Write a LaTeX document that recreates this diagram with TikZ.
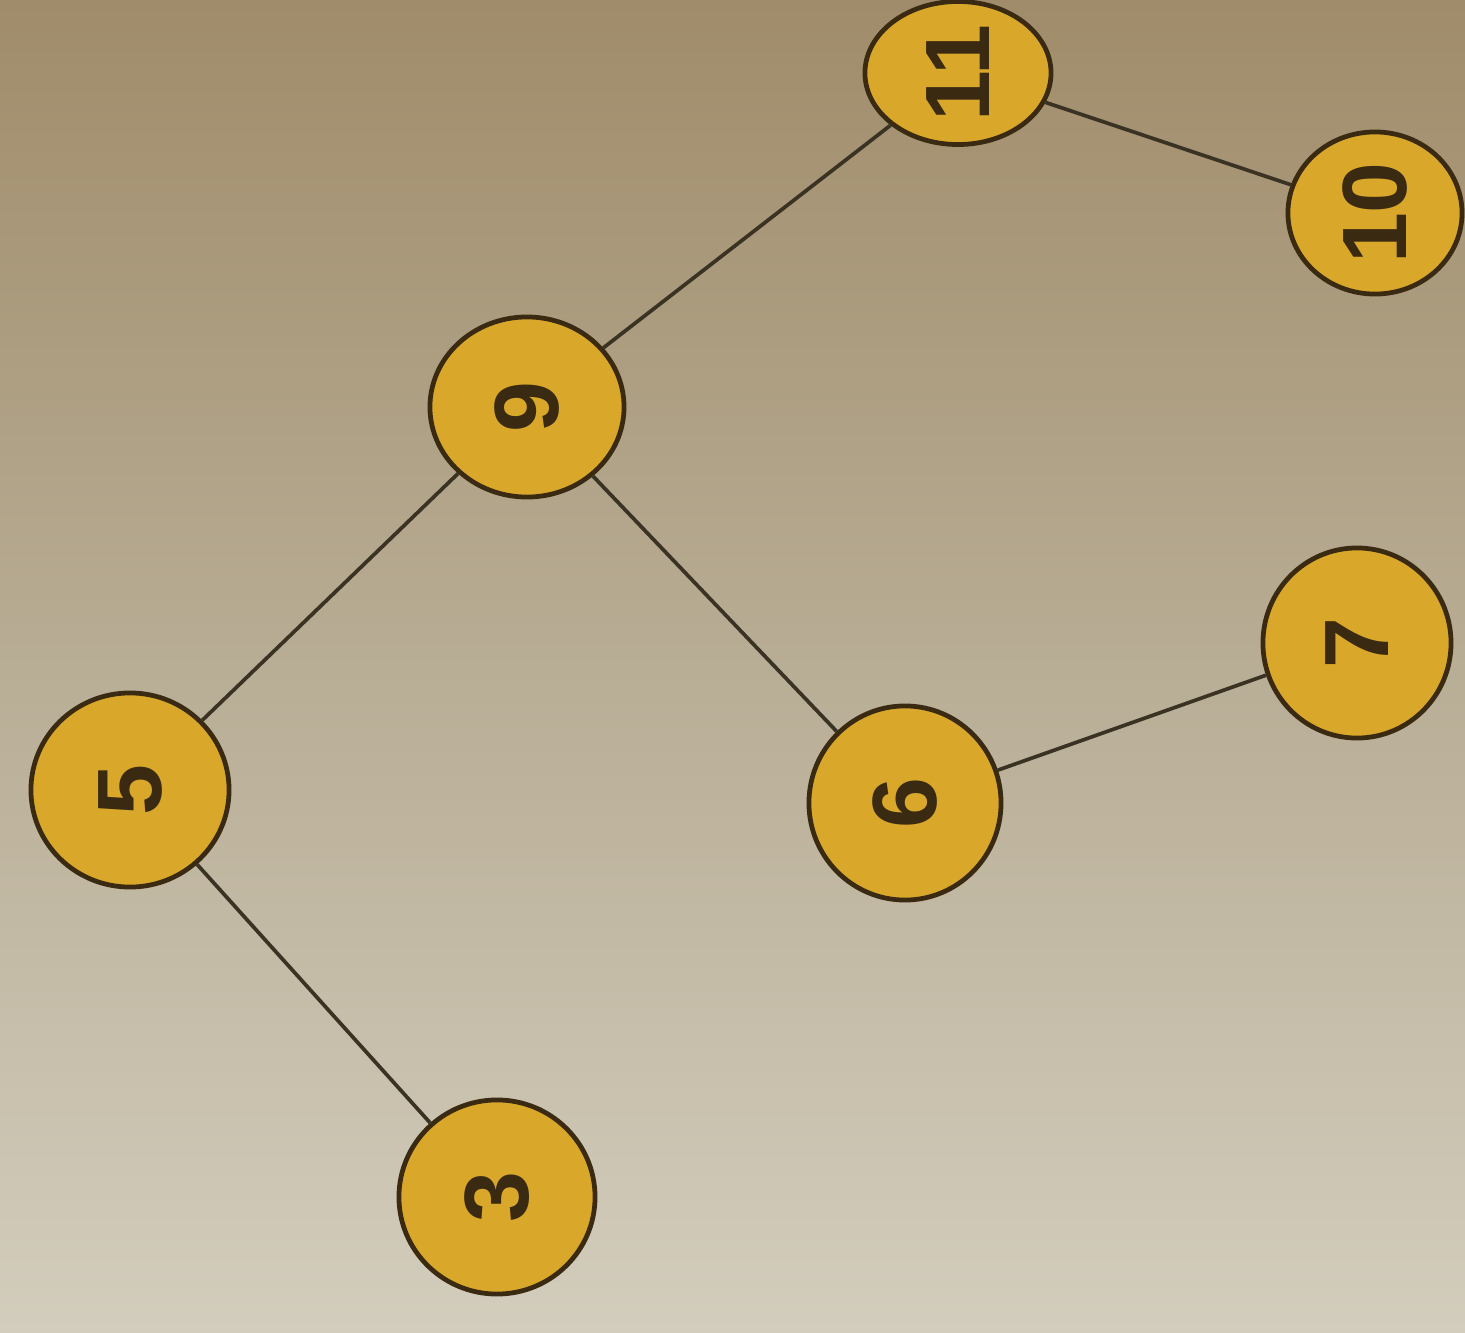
\documentclass[tikz,border=0pt]{standalone}
\usepackage{fontspec}
\usepackage{graphicx}
\setmainfont{Liberation Sans}
\usetikzlibrary{shapes.geometric}
\definecolor{bgtop}{HTML}{A08C6A}
\definecolor{bgmid}{HTML}{B8AD95}
\definecolor{bgbot}{HTML}{D3CDBD}
\definecolor{keyfill}{HTML}{D9A82A}
\definecolor{keyedge}{HTML}{3A2A12}
\definecolor{linkcol}{HTML}{3A3222}
\tikzset{
  keynode/.style={ellipse, draw=keyedge, line width=1.35pt, fill=keyfill,
    inner sep=0pt, text=keyedge,
    font=\fontsize{26}{26}\selectfont\bfseries},
  link/.style={draw=linkcol, line width=1.05pt}
}
\newcommand{\keytext}[1]{\rotatebox{90}{#1}}
\begin{document}
\begin{tikzpicture}[x=0.01cm, y=-0.01cm]
  % paper background
  \useasboundingbox (0,0) rectangle (1465,1333);
  \shade[top color=bgtop, bottom color=bgbot, middle color=bgmid]
    (0,0) rectangle (1465,1333);

  % keys
  \node[keynode, minimum width=1.86cm, minimum height=1.43cm] (n11) at (958,73) {\keytext{11}};
  \node[keynode, minimum width=1.74cm, minimum height=1.62cm] (n10) at (1375,213) {\keytext{10}};
  \node[keynode, minimum width=1.94cm, minimum height=1.80cm] (n9) at (527,407) {\keytext{9}};
  \node[keynode, minimum width=1.98cm, minimum height=1.94cm] (n5) at (130,790) {\keytext{5}};
  \node[keynode, minimum width=1.92cm, minimum height=1.94cm] (n6) at (905,803) {\keytext{6}};
  \node[keynode, minimum width=1.88cm, minimum height=1.90cm] (n7) at (1357,643) {\keytext{7}};
  \node[keynode, minimum width=1.96cm, minimum height=1.94cm] (n3) at (497,1197) {\keytext{3}};

  % links
  \draw[link] (n11) -- (n10);
  \draw[link] (n11) -- (n9);
  \draw[link] (n9) -- (n5);
  \draw[link] (n9) -- (n6);
  \draw[link] (n6) -- (n7);
  \draw[link] (n5) -- (n3);
\end{tikzpicture}
\end{document}
